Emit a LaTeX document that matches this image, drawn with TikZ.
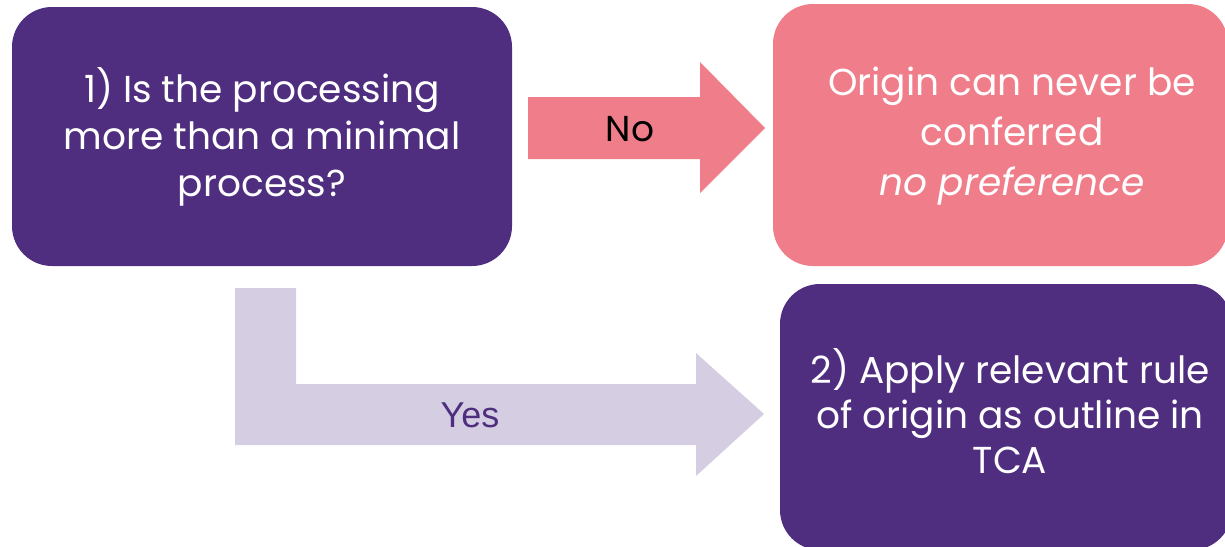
\documentclass[tikz,border=0pt]{standalone}
\usepackage{fontspec}
\setmainfont{Poppins}
\newfontfamily\yesfont{Liberation Sans}
\definecolor{purp}{HTML}{4F2D7F}
\definecolor{pink}{HTML}{F07D8A}
\definecolor{lilac}{HTML}{D5CDE2}
\begin{document}
\begin{tikzpicture}[x=1pt,y=-1pt,
  box/.style={rounded corners=40pt, inner sep=0pt, align=center, text=white,
    font=\fontsize{37.5}{47}\selectfont},
  lbl/.style={inner sep=0pt, font=\fontsize{36}{40}\selectfont}]
\useasboundingbox (0,0) rectangle (1225,546);
\node[box, fill=purp, minimum width=500pt, minimum height=259pt] (q1) at (262,136.5)
  {1) Is the processing\\more than a minimal\\process?};
\node[box, fill=pink, minimum width=455pt, minimum height=262pt] (res) at (1000.5,135) {};
\node[box, align=center, text=white, font=\fontsize{37.5}{50}\selectfont] (restext) at (1012,136)
  {Origin can never be\\conferred\\\textit{no preference}};
\node[box, fill=purp, minimum width=452pt, minimum height=266pt] (q2) at (1006,417) {};
\node[box, align=center, text=white, font=\fontsize{37.5}{45}\selectfont] (q2text) at (1010,411)
  {2) Apply relevant rule\\of origin as outline in\\TCA};
% No arrow
\coordinate (nstart) at (528,128);
\coordinate (ntip) at (765,128);
\fill[pink] (nstart) ++(0,-31) -- ++(172,0) -- ++(0,-35) -- (ntip) -- ++(-65,65) -- ++(0,-34) -- ++(-172,0) -- cycle;
\node[lbl, text=black] (no) at (630,129) {No};
% Yes arrow
\coordinate (ystart) at (235,288);
\coordinate (ytip) at (764,414);
\fill[lilac] (ystart) -- ++(61,0) -- ++(0,96) -- ++(400,0) -- ++(0,-31) -- (ytip) -- ++(-68,62) -- ++(0,-31) -- ++(-461,0) -- cycle;
\node[lbl, text=purp, font=\yesfont\fontsize{36}{40}\selectfont] (yes) at (470,415) {Yes};
\end{tikzpicture}
\end{document}
